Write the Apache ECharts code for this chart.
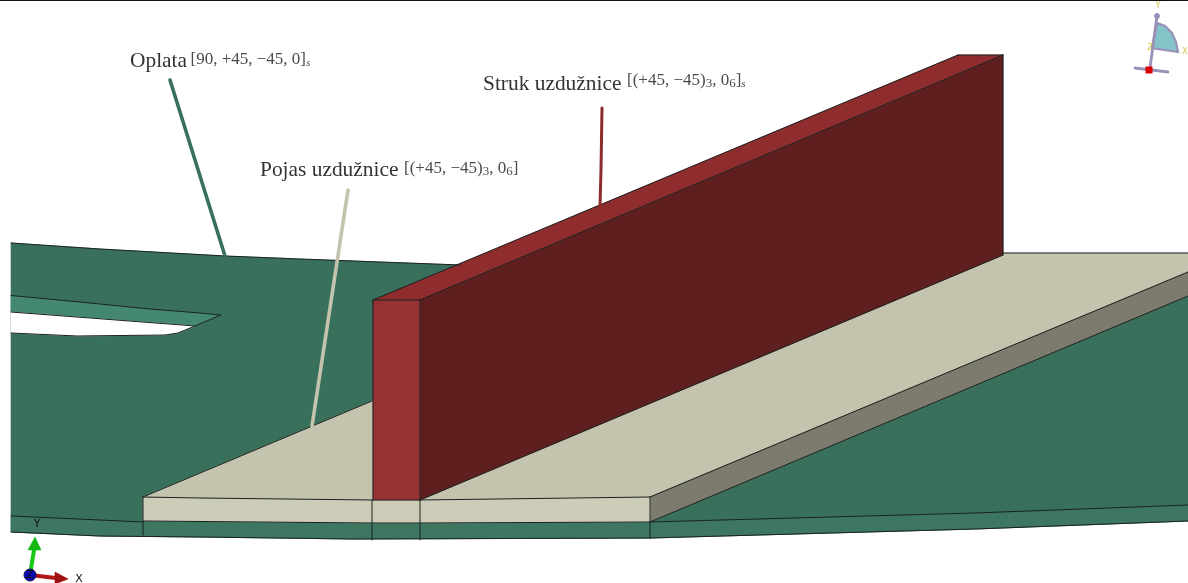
<!DOCTYPE html>
<html><head><meta charset="utf-8">
<style>html,body{margin:0;padding:0;background:#fff}#c{width:1188px;height:583px}</style>
<script src="https://cdn.jsdelivr.net/npm/echarts@6/dist/echarts.min.js"></script>
</head><body><div id="c"></div>
<script>
// Geometry, in picture units
const plate = [[11,243],[100,249],[225,256],[300,259],[460,265],[1003,255],[1188,296],[1188,521],[975,529],[650,538],[353,539],[200,537],[100,536],[11,532]];
const plateSkin = [[11,295.5],[80,302],[150,309],[200,313],[221,315],[195,326],[11,312]];
const cutout = [[11,312],[195,326],[178,333],[165,335],[77,336],[11,333]];
const sideStrip = [[11,516],[100,520],[143,522],[372,523],[650,522],[975,513],[1188,505],[1188,521],[975,529],[650,538],[353,539],[200,537],[100,536],[11,532]];
const flangeTop = [[143,497],[372,401],[1003,253],[1188,253],[1188,272],[650,497],[420,500],[372,500]];
const flangeFront = [[143,497],[200,498],[372,500],[420,500],[650,497],[650,522],[420,523],[372,523],[143,521]];
const flangeSide = [[650,497],[1188,272],[1188,296],[650,522]];
const webFront = [[373,300],[420,300],[420,500],[373,500]];
const webSide = [[420,300],[1003,55],[1003,255],[420,500]];
const webTop = [[373,300],[958,55],[1003,55],[420,300]];
const edgeLines = [
  [[11,243],[100,249],[225,256],[300,259],[460,265]],
  [[11,295.5],[80,302],[150,309],[200,313],[221,315],[178,333],[165,335],[77,336],[11,333]],
  [[11,312],[195,326]],
  [[11,516],[100,520],[143,522]],
  [[650,522],[975,513],[1188,505]],
  [[11,532],[100,536],[200,537],[353,539],[650,538],[975,529],[1188,521]],
  [[143,497],[372,401]],
  [[143,497],[143,535]],
  [[143,497],[200,498],[372,500],[420,500],[650,497]],
  [[143,521],[372,523],[420,523],[650,522]],
  [[372,500],[372,540]],[[420,500],[420,540]],[[650,497],[650,538]],
  [[650,497],[1188,272]],[[650,522],[1188,296]],
  [[1003,253],[1188,253]],
  [[420,500],[1003,255]],[[1003,55],[1003,255]],[[420,300],[1003,55]],[[373,300],[958,55]],
  [[373,300],[420,300]],[[420,300],[420,500]],[[373,300],[373,500]],[[958,55],[1003,55]]
];
const topRule = [[0,0.5],[1188,0.5]];
const leaderSkin = [[170,80],[225,256]];
const leaderFlange = [[348,190],[312,426]];
const leaderWeb = [[602,108],[601,170],[600,206]];
// view triad, top right
const triadSector = [[1157,23],[1165,26],[1172,33],[1176,42],[1178,52],[1152,48]];
const triadStem = [[1157,16],[1150,68]];
const triadBase = [[1135,68],[1168,72]];
const triadOrigin = [[1149,70]];
const triadTip = [[1157,16]];
// global axes, bottom left
const axisY = [[30,575],[34,550]];
const axisYHead = [[28,550],[41,550],[35,537]];
const axisX = [[30,575],[56,578]];
const axisXHead = [[55,572],[55,584],[68,579]];
const axisZ = [[30,575]];
// texts
const labels = [
  [130,61,'Oplata'],
  [260,170,'Pojas uzdužnice'],
  [483,84,'Struk uzdužnice']
];
const stacks = [
  [190.5,60,'{m|[90, +45, −45, 0]}{s|s}'],
  [404,169,'{m|[(+45, −45)}{n|3}{m|, 0}{n|6}{m|]}'],
  [627,81,'{m|[(+45, −45)}{n|3}{m|, 0}{n|6}{m|]}{s|s}']
];
const cadLabels = [[37,524,'Y'],[79,579,'X'],[30,575,'Z']];
const triadLabels = [[1158,6,'Y'],[1185,52,'X'],[1150,48,'Z']];

function poly(pts, fill, stroke, lw){
  return {type:'custom',coordinateSystem:'cartesian2d',silent:true,data:[[0,0]],clip:false,
    renderItem:(p,api)=>({type:'polygon',shape:{points:pts.map(q=>api.coord(q))},
      style:{fill:fill,stroke:stroke||fill,lineWidth:lw===undefined?0.6:lw}})};
}
function line(pts, color, w){
  return {type:'custom',coordinateSystem:'cartesian2d',silent:true,data:[[0,0]],clip:false,
    renderItem:(p,api)=>({type:'polyline',shape:{points:pts.map(q=>api.coord(q))},
      style:{fill:null,stroke:color,lineWidth:w,lineCap:'round',lineJoin:'round'}})};
}
function dot(center, r, fill, stroke){
  return {type:'custom',coordinateSystem:'cartesian2d',silent:true,data:[[0,0]],clip:false,
    renderItem:(p,api)=>{const c=api.coord(center[0]);
      return {type:'circle',shape:{cx:c[0],cy:c[1],r:r},style:{fill:fill,stroke:stroke,lineWidth:1}};}};
}
function square(center, s, fill){
  return {type:'custom',coordinateSystem:'cartesian2d',silent:true,data:[[0,0]],clip:false,
    renderItem:(p,api)=>{const c=api.coord(center[0]);
      return {type:'rect',shape:{x:c[0]-s/2,y:c[1]-s/2,width:s,height:s},style:{fill:fill}};}};
}
function texts(items, font, size, color, rich, align){
  return {type:'custom',coordinateSystem:'cartesian2d',silent:true,data:items.map(t=>[t[0],t[1]]),clip:false,
    renderItem:(p,api)=>{const t=items[p.dataIndex],c=api.coord([t[0],t[1]]);
      return {type:'text',x:c[0],y:c[1],style:{text:t[2],fontFamily:font,fontSize:size,fill:color,
        align:align||'left',verticalAlign:'middle',rich:rich}};}};
}
const serif='"Liberation Serif"';
const richMath={
  m:{fontFamily:serif,fontSize:17,fill:'#4a4a4a',lineHeight:18,verticalAlign:'middle'},
  n:{fontFamily:serif,fontSize:13,fill:'#4a4a4a',lineHeight:18,verticalAlign:'bottom',padding:[5,0,0,0]},
  s:{fontFamily:serif,fontSize:11,fontStyle:'italic',fill:'#4a4a4a',lineHeight:18,verticalAlign:'bottom',padding:[5,0,0,0]}
};
const ink='#1a2220';
const series=[
  line(topRule,'#111',1.2),
  poly(plate,'#38705c'),
  poly(plateSkin,'#44886f'),
  poly(cutout,'#ffffff'),
  poly(sideStrip,'#3d7661'),
  poly(flangeTop,'#c4c3ae'),
  poly(flangeSide,'#7c7b6d'),
  poly(flangeFront,'#cdccb8'),
  poly(webSide,'#5f1f1f'),
  poly(webTop,'#8f2c2e'),
  poly(webFront,'#963234')
];
edgeLines.forEach(l=>series.push(line(l,ink,1)));
series.push(
  line(leaderSkin,'#38705c',3.6),
  line(leaderFlange,'#c4c3ad',3.6),
  line(leaderWeb,'#8c2c2c',3),
  texts(labels,serif,21.4,'#333333'),
  texts(stacks,serif,17,'#4a4a4a',richMath),
  line(axisY,'#14c814',4),
  poly(axisYHead,'#12b812'),
  line(axisX,'#b01414',4),
  poly(axisXHead,'#a01010'),
  dot(axisZ,6,'#0a0ab4','#10105a'),
  texts(cadLabels,'"DejaVu Sans"',11,'#111111',undefined,'center'),
  poly(triadSector,'#84c4c8','#9a90b8',2.2),
  line(triadStem,'#9a90b8',2.8),
  line(triadBase,'#9a90b8',2.8),
  dot(triadTip,2.5,'#9a90b8','#9a90b8'),
  square(triadOrigin,7,'#dc0000'),
  texts(triadLabels,'"DejaVu Sans"',8.5,'#d8c84a',undefined,'center')
);
const chart=echarts.init(document.getElementById('c'),null,{renderer:'canvas'});
chart.setOption({
  animation:false,backgroundColor:'#ffffff',
  grid:{left:0,right:0,top:0,bottom:0},
  xAxis:{type:'value',min:0,max:1188,show:false},
  yAxis:{type:'value',min:0,max:583,inverse:true,show:false},
  series:series
});
</script></body></html>
